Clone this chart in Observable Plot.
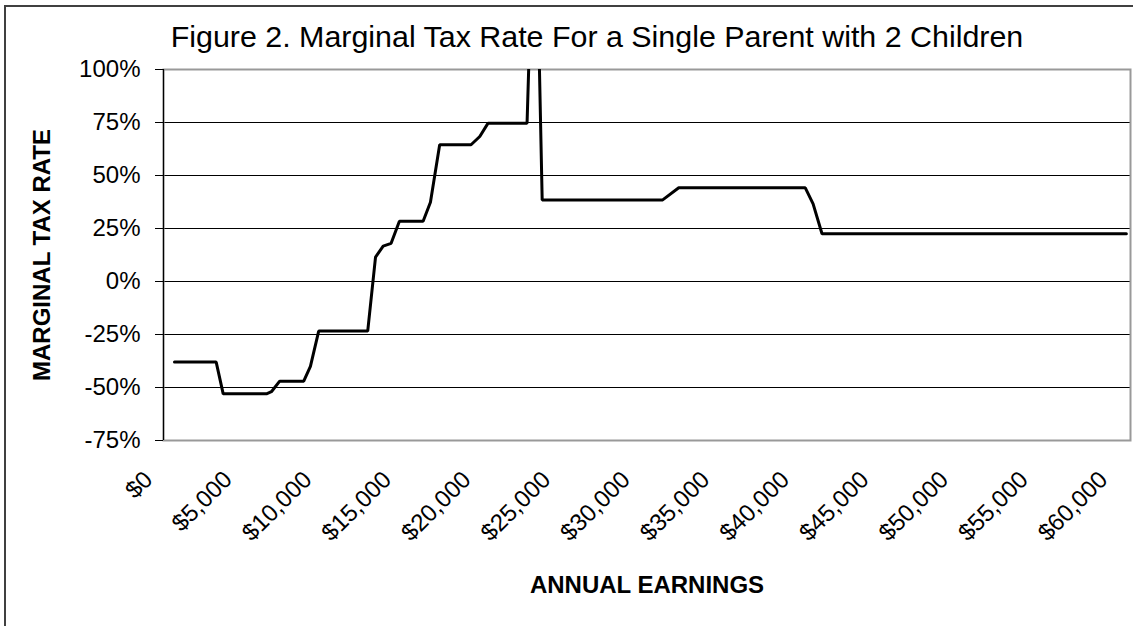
<!DOCTYPE html>
<html>
<head>
<meta charset="utf-8">
<script src="https://cdn.jsdelivr.net/npm/d3@7"></script>
<script src="https://cdn.jsdelivr.net/npm/@observablehq/plot@0.6"></script>
<style>
  html, body { margin: 0; padding: 0; background: #fff; }
  #wrap { position: relative; width: 1133px; height: 626px; overflow: hidden; background: #fff; font-family: "Liberation Sans", Arial, sans-serif; }
  #border { position: absolute; left: 4px; top: 5px; width: 1400px; height: 900px; border: 2px solid #404040; box-sizing: border-box; }
  #title { position: relative; width: 1194px; height: 56px; padding-top: 21px; box-sizing: border-box; line-height: 30px; font-size: 30.4px; text-align: center; color: #000; white-space: nowrap; }
  #chart { position: relative; }
</style>
</head>
<body>
<div id="wrap">
  <div id="border"></div>
  <div id="title">Figure 2. Marginal Tax Rate For a Single Parent with 2 Children</div>
  <div id="chart"></div>
</div>
<script>
// Data
const earnings = [690, 3310, 3750, 6470, 6780, 7300, 8810, 9230, 9750, 12830, 13320, 13800, 14300, 14820, 16310, 16770, 17350, 19320, 19870, 20390, 22840, 23340, 23790, 31360, 32370, 40320, 40810, 41370, 60490];
const rates = [-0.38, -0.38, -0.53, -0.53, -0.52, -0.47, -0.47, -0.40, -0.234, -0.234, 0.115, 0.167, 0.18, 0.284, 0.284, 0.374, 0.645, 0.645, 0.684, 0.747, 0.747, 2.0, 0.385, 0.385, 0.442, 0.442, 0.366, 0.225, 0.225];
const xTicks = [0, 5000, 10000, 15000, 20000, 25000, 30000, 35000, 40000, 45000, 50000, 55000, 60000];
const yTicks = [-0.75, -0.5, -0.25, 0, 0.25, 0.5, 0.75, 1];
const yTitle = "MARGINAL TAX RATE";
const xTitle = "ANNUAL EARNINGS";

const data = earnings.map((e, i) => ({earnings: e, rate: rates[i]}));

const chart = Plot.plot({
  width: 1133,
  height: 570,
  marginLeft: 163,
  marginRight: 3,
  marginTop: 13,
  marginBottom: 186,
  style: { fontFamily: "'Liberation Sans', Arial, sans-serif", fontSize: "24px", color: "#000", background: "transparent", overflow: "visible" },
  x: { domain: [0, 60750] },
  y: { domain: [-0.75, 1] },
  marks: [
    Plot.gridY(yTicks.slice(1, -1), { stroke: "#000", strokeOpacity: 1, strokeWidth: 1 }),
    Plot.frame({ stroke: "#999", strokeWidth: 2 }),
    Plot.ruleX([0], { stroke: "#000", strokeWidth: 1.2 }),
    Plot.axisY(yTicks, {
      tickSize: 8, tickPadding: 15, stroke: "#000",
      tickFormat: d => `${Math.round(d * 100)}%`,
      label: null, fontSize: 24
    }),
    Plot.axisX(xTicks, {
      tickSize: 0, tickPadding: 35, tickRotate: -45, dx: -15,
      tickFormat: d => "$" + d3.format(",")(d),
      label: null, fontSize: 24
    }),
    Plot.line(data, { x: "earnings", y: "rate", stroke: "#000", strokeWidth: 3, clip: true, strokeLinejoin: "miter" }),
    Plot.text([yTitle], { text: d => d, frameAnchor: "left", textAnchor: "middle", rotate: -90, dx: -121, fontWeight: "bold", fontSize: 24 }),
    Plot.text([xTitle], { text: d => d, frameAnchor: "bottom", textAnchor: "middle", dy: 152, fontWeight: "bold", fontSize: 24 })
  ]
});
document.getElementById("chart").appendChild(chart);
</script>
</body>
</html>
